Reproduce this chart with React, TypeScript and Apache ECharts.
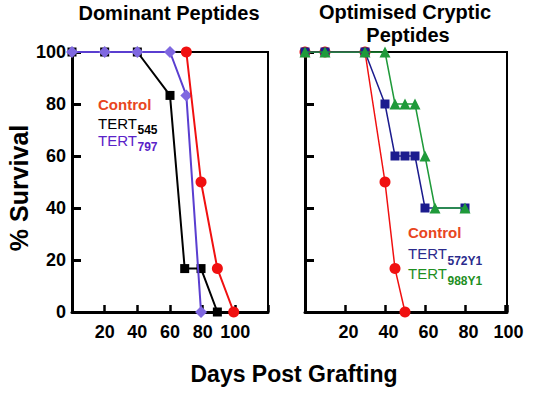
import React, { useEffect, useRef } from "react";
import * as echarts from "echarts";

// ---- Data ----
const leftControl = [[70, 100], [79, 50], [89, 16.7], [99, 0]];
const leftTert545 = [[0, 100], [20, 100], [40, 100], [60, 83.3], [69, 16.7], [79, 16.7], [89, 0]];
const leftTert797 = [[0, 100], [20, 100], [40, 100], [60, 100], [70, 83.3], [79, 0]];

const rightControl = [[0, 100], [10, 100], [30, 100], [40, 50], [45, 16.7], [50, 0]];
const rightTert572 = [[0, 100], [10, 100], [30, 100], [40, 80], [45, 60], [50, 60], [55, 60], [60, 40], [80, 40]];
const rightTert988 = [[0, 100], [10, 100], [30, 100], [40, 100], [45, 80], [50, 80], [55, 80], [60, 60], [65, 40], [80, 40]];

const xTickLabels = [20, 40, 60, 80, 100];
const yTickLabels = [0, 20, 40, 60, 80, 100];

const FONT = "'Liberation Sans', Arial, Helvetica, sans-serif";

const RED = "#f01010";
const BLACK = "#000000";
const PURPLE_LINE = "#5a3ed0";
const PURPLE_MARK = "#7f68e0";
const NAVY = "#1c1c8e";
const GREEN = "#1f9a3a";

export default function App() {
  const ref = useRef<HTMLDivElement>(null);

  useEffect(() => {
    if (!ref.current) return;
    const chart = echarts.init(ref.current, null, { renderer: "svg" });

    const xLabelFmt = (v: number) => (xTickLabels.includes(v) ? String(v) : "");
    const yLabelFmt = (v: number) => (yTickLabels.includes(v) ? String(v) : "");

    const baseX = {
      type: "value",
      min: 0,
      interval: 20,
      splitLine: { show: false },
      axisLine: { show: true, lineStyle: { color: "#000", width: 3 } },
      axisTick: { show: true, inside: true, length: 7, lineStyle: { color: "#000", width: 2.5 } },
    };
    const baseY = {
      type: "value",
      min: 0,
      max: 100,
      interval: 20,
      splitLine: { show: false },
      axisLine: { show: true, lineStyle: { color: "#000", width: 3 } },
      axisTick: { show: true, inside: true, length: 9, lineStyle: { color: "#000", width: 3 } },
    };

    const line = (name: string, data: number[][], color: string, markColor: string, symbol: string, size: number, width: number, gi: number, z: number) => ({
      name,
      type: "line",
      xAxisIndex: gi,
      yAxisIndex: gi,
      data,
      symbol,
      symbolSize: size,
      showSymbol: true,
      z,
      lineStyle: { color, width },
      itemStyle: { color: markColor, borderWidth: 0 },
    });

    const txt = (text: string, x: number, y: number, size: number, color: string, weight: string, align = "left", rotation = 0) => ({
      type: "text",
      x,
      y,
      rotation,
      style: {
        text,
        fill: color,
        font: `${weight} ${size}px ${FONT}`,
        textAlign: align,
        textVerticalAlign: "middle",
      },
      z: 100,
    });

    chart.setOption({
      animation: false,
      backgroundColor: "#ffffff",
      grid: [
        { left: 72, top: 52, width: 196, height: 260, show: true, borderColor: "#000", borderWidth: 2 },
        { left: 305, top: 52, width: 202, height: 260, show: true, borderColor: "#000", borderWidth: 2 },
      ],
      xAxis: [
        {
          ...baseX,
          gridIndex: 0,
          max: 120,
          axisLabel: { formatter: xLabelFmt, color: "#000", fontFamily: FONT, fontWeight: "bold", fontSize: 18, margin: 11 },
        },
        {
          ...baseX,
          gridIndex: 1,
          max: 101,
          axisLabel: { formatter: xLabelFmt, color: "#000", fontFamily: FONT, fontWeight: "bold", fontSize: 18, margin: 11, padding: [0, 0, 0, 7] },
        },
      ],
      yAxis: [
        {
          ...baseY,
          gridIndex: 0,
          axisLabel: { formatter: yLabelFmt, color: "#000", fontFamily: FONT, fontWeight: "bold", fontSize: 18, margin: 6 },
        },
        {
          ...baseY,
          gridIndex: 1,
          axisLabel: { show: false },
        },
      ],
      series: [
        line("TERT545", leftTert545, BLACK, BLACK, "rect", 9, 2, 0, 2),
        line("TERT797", leftTert797, PURPLE_LINE, PURPLE_MARK, "diamond", 12, 2, 0, 3),
        line("Control", leftControl, RED, RED, "circle", 11, 2, 0, 4),
        line("Control ", rightControl, RED, RED, "circle", 11, 1.5, 1, 2),
        line("TERT572Y1", rightTert572, NAVY, NAVY, "rect", 9, 1.5, 1, 3),
        line("TERT988Y1", rightTert988, GREEN, GREEN, "triangle", 11, 1.5, 1, 4),
      ],
      graphic: [
        txt("Dominant Peptides", 169, 13, 20, "#000", "bold", "center"),
        txt("Optimised Cryptic", 405, 12, 20, "#000", "bold", "center"),
        txt("Peptides", 408, 35, 20, "#000", "bold", "center"),
        txt("% Survival", 19, 188, 25, "#000", "bold", "center", Math.PI / 2),
        txt("Days Post Grafting", 294, 374, 23, "#000", "bold", "center"),
        // left legend
        txt("Control", 98, 104, 15, "#e8461e", "bold"),
        txt("TERT", 98, 123, 15, "#000", "normal"),
        txt("545", 137.5, 130, 12, "#000", "bold"),
        txt("TERT", 98, 140, 15, "#5a22c8", "normal"),
        txt("797", 137.5, 147, 12, "#5a22c8", "bold"),
        // right legend
        txt("Control", 408, 232, 15, "#e8461e", "bold"),
        txt("TERT", 408, 253, 15, "#2b2b8c", "normal"),
        txt("572Y1", 447.5, 260.5, 12, "#2b2b8c", "bold"),
        txt("TERT", 408, 273, 15, "#1f8f1f", "normal"),
        txt("988Y1", 447.5, 280.5, 12, "#1f8f1f", "bold"),
      ],
    });

    return () => chart.dispose();
  }, []);

  return (
    <div
      ref={ref}
      style={{ position: "fixed", left: 0, top: 0, width: 551, height: 393, background: "#fff" }}
    />
  );
}
